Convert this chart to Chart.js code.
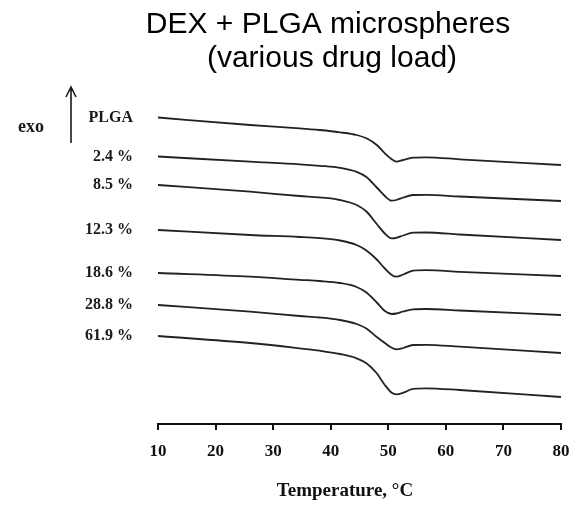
<!DOCTYPE html>
<html>
<head>
<meta charset="utf-8">
<title>DEX + PLGA microspheres</title>
<script src="https://cdn.jsdelivr.net/npm/chart.js@4.4.1/dist/chart.umd.min.js"></script>
<style>
  html, body { margin: 0; padding: 0; background: #fff; }
  #dsc-wrap { width: 577px; height: 509px; position: relative; }
</style>
</head>
<body>
<div id="dsc-wrap"><canvas id="dsc-canvas"></canvas></div>
<script>
// DSC thermograms, temperature in °C
const temperatures = [10, 26, 34.6, 38.1, 41.6, 44.5, 46.2, 48, 49.4, 50.6, 51.4, 52.6, 54.3, 56.6, 62.4, 80];

// heat flow (arbitrary units, curves stacked for readability)
const plgaFlow = [30.65, 29.9, 29.57, 29.4, 29.17, 28.9, 28.57, 27.9, 27.07, 26.47, 26.23, 26.4, 26.63, 26.67, 26.47, 25.9];
const load24Flow = [26.75, 26.23, 25.97, 25.82, 25.62, 25.22, 24.7, 23.65, 22.8, 22.33, 22.4, 22.65, 22.9, 22.92, 22.75, 22.3];
const load85Flow = [23.9, 23.23, 22.8, 22.66, 22.4, 21.9, 21.25, 20.0, 19.05, 18.57, 18.62, 18.85, 19.13, 19.15, 18.95, 18.4];
const load123Flow = [19.4, 18.9, 18.7, 18.58, 18.35, 17.9, 17.35, 16.45, 15.55, 14.9, 14.73, 14.95, 15.33, 15.38, 15.22, 14.8];
const load186Flow = [15.1, 14.73, 14.42, 14.3, 14.1, 13.7, 13.15, 12.15, 11.3, 11.0, 11.05, 11.25, 11.47, 11.5, 11.35, 10.9];
const load288Flow = [11.9, 11.23, 10.8, 10.65, 10.4, 10.0, 9.55, 8.7, 8.1, 7.62, 7.47, 7.6, 7.9, 7.92, 7.73, 7.1];
const load619Flow = [8.8, 8.1, 7.57, 7.33, 7.0, 6.57, 6.07, 5.07, 3.9, 3.13, 2.97, 3.13, 3.52, 3.57, 3.4, 2.7];

const sampleLabels = ["PLGA", "2.4 %", "8.5 %", "12.3 %", "18.6 %", "28.8 %", "61.9 %"];
const seriesFlows = [plgaFlow, load24Flow, load85Flow, load123Flow, load186Flow, load288Flow, load619Flow];

const xTicks = [10, 20, 30, 40, 50, 60, 70, 80];
const titleLines = ["DEX + PLGA microspheres", "(various drug load)"];
const xAxisTitle = "Temperature, °C";

const serif = "'Liberation Serif', 'Times New Roman', serif";
const sans = "'Liberation Sans', Arial, sans-serif";

function toPoints(values) {
  return values.map((v, i) => ({ x: temperatures[i], y: v }));
}

// Title, axis title, sample names and the "exo" marker
const annotations = {
  id: "annotations",
  afterDraw(chart) {
    const ctx = chart.ctx;
    const yScale = chart.scales.y;
    ctx.save();

    ctx.fillStyle = "#000";
    ctx.font = "30px " + sans;
    ctx.textAlign = "center";
    ctx.textBaseline = "alphabetic";
    ctx.fillText(titleLines[0], 328, 33);
    ctx.fillText(titleLines[1], 332, 67);

    ctx.fillStyle = "#111";
    ctx.font = "bold 19px " + serif;
    ctx.textBaseline = "middle";
    ctx.fillText(xAxisTitle, 345, 491);

    ctx.fillStyle = "#1a1a1a";
    ctx.font = "bold 16px " + serif;
    ctx.textAlign = "right";
    chart.data.datasets.forEach((ds) => {
      ctx.fillText(ds.label, 133, yScale.getPixelForValue(ds.data[0].y));
    });

    ctx.font = "bold 18px " + serif;
    ctx.textAlign = "center";
    ctx.fillText("exo", 31, 127);

    // arrow pointing up
    ctx.strokeStyle = "#1a1a1a";
    ctx.lineWidth = 1.6;
    ctx.beginPath();
    ctx.moveTo(71, 143);
    ctx.lineTo(71, 88);
    ctx.moveTo(66, 97);
    ctx.lineTo(71, 87);
    ctx.lineTo(76, 97);
    ctx.stroke();

    ctx.restore();
  },
};

function drawChart() {
  const ctx = document.getElementById("dsc-canvas").getContext("2d");

  const datasets = seriesFlows.map((flow, i) => ({
    label: sampleLabels[i],
    data: toPoints(flow),
    borderColor: "#222",
    borderWidth: 1.8,
    pointRadius: 0,
    fill: false,
    cubicInterpolationMode: "monotone",
  }));

  new Chart(ctx, {
    type: "line",
    data: { datasets },
    options: {
      responsive: true,
      maintainAspectRatio: false,
      animation: false,
      layout: { padding: { top: 94, left: 158, right: 16, bottom: 0 } },
      plugins: {
        legend: { display: false },
        tooltip: { enabled: false },
      },
      scales: {
        x: {
          type: "linear",
          min: 10,
          max: 80,
          afterFit: (scale) => {
            scale.height = 85;
            // end labels fit inside the layout padding
            scale.paddingLeft = 0;
            scale.paddingRight = 0;
          },
          afterBuildTicks: (scale) => {
            scale.ticks = xTicks.map((v) => ({ value: v }));
          },
          border: { display: true, color: "#111", width: 2 },
          grid: {
            drawOnChartArea: false,
            drawTicks: true,
            tickLength: 6,
            color: "#111",
            lineWidth: 2,
          },
          ticks: {
            color: "#111",
            padding: 11,
            maxRotation: 0,
            font: { family: serif, size: 17, weight: "bold" },
          },
        },
        y: {
          display: false,
          min: 0,
          max: 33,
        },
      },
    },
    plugins: [annotations],
  });
}

drawChart();
</script>
</body>
</html>
